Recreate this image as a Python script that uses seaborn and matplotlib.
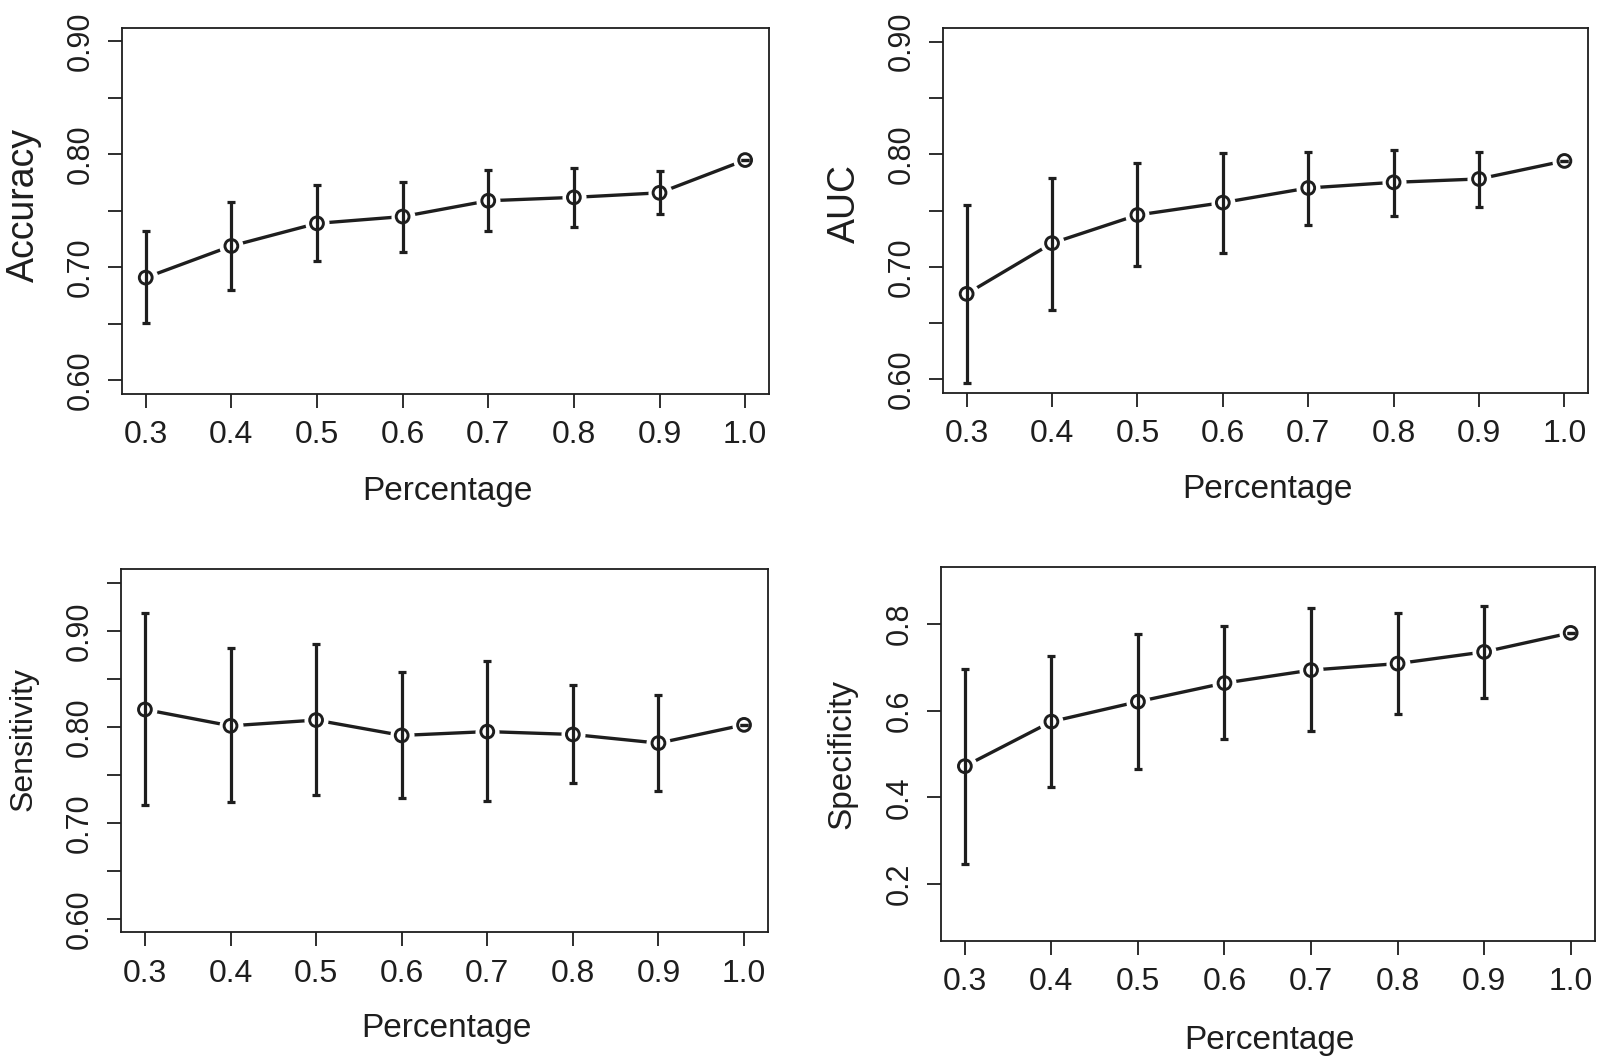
import numpy as np
import matplotlib
matplotlib.use("Agg")
import matplotlib.pyplot as plt
import seaborn as sns

# training set percentage
pct = [0.3, 0.4, 0.5, 0.6, 0.7, 0.8, 0.9, 1.0]

# mean and range (low / high) for every metric
acc_mean = [0.691, 0.719, 0.739, 0.745, 0.759, 0.762, 0.766, 0.795]
acc_lo = [0.651, 0.680, 0.706, 0.714, 0.732, 0.736, 0.747, 0.795]
acc_hi = [0.732, 0.758, 0.773, 0.776, 0.786, 0.788, 0.785, 0.795]

auc_mean = [0.676, 0.721, 0.746, 0.757, 0.770, 0.775, 0.778, 0.794]
auc_lo = [0.597, 0.662, 0.701, 0.712, 0.737, 0.745, 0.753, 0.794]
auc_hi = [0.755, 0.779, 0.792, 0.801, 0.802, 0.804, 0.802, 0.794]

sens_mean = [0.818, 0.801, 0.807, 0.791, 0.795, 0.792, 0.783, 0.802]
sens_lo = [0.719, 0.722, 0.729, 0.726, 0.723, 0.741, 0.733, 0.802]
sens_hi = [0.919, 0.882, 0.886, 0.857, 0.869, 0.844, 0.833, 0.802]

spec_mean = [0.472, 0.575, 0.621, 0.664, 0.694, 0.709, 0.736, 0.780]
spec_lo = [0.246, 0.425, 0.466, 0.535, 0.553, 0.593, 0.630, 0.780]
spec_hi = [0.697, 0.727, 0.778, 0.796, 0.837, 0.826, 0.842, 0.780]

x_labels = ["0.3", "0.4", "0.5", "0.6", "0.7", "0.8", "0.9", "1.0"]

sns.set_style("ticks")
plt.rcParams["font.family"] = ["Liberation Sans", "DejaVu Sans"]
INK = "#1e1e1e"

fig = plt.figure(figsize=(16, 10.57), dpi=100)

# panel: (rect, mean, lo, hi, ylabel, ylabel size, ylim, yticks, ytick labels, ylabel pos)
panels = [
    ([0.0761, 0.6272, 0.4046, 0.3465], acc_mean, acc_lo, acc_hi, "Accuracy", 27,
     (0.6, 0.9), np.arange(0.60, 0.901, 0.05), ["0.60", "", "0.70", "", "0.80", "", "0.90"], 0.515),
    ([0.5892, 0.6282, 0.4035, 0.3453], auc_mean, auc_lo, auc_hi, "AUC", 27,
     (0.6, 0.9), np.arange(0.60, 0.901, 0.05), ["0.60", "", "0.70", "", "0.80", "", "0.90"], 0.518),
    ([0.0756, 0.1180, 0.4044, 0.3434], sens_mean, sens_lo, sens_hi, "Sensitivity", 23,
     (0.6, 0.95), np.arange(0.60, 0.951, 0.05), ["0.60", "", "0.70", "", "0.80", "", "0.90", ""], 0.532),
    ([0.5879, 0.1097, 0.4089, 0.3538], spec_mean, spec_lo, spec_hi, "Specificity", 24,
     (0.1, 0.9), [0.2, 0.4, 0.6, 0.8], ["0.2", "0.4", "0.6", "0.8"], 0.5),
]

for rect, mean, lo, hi, ylab, ysize, ylim, yt, ytl, ylab_y in panels:
    ax = fig.add_axes(rect)
    mean = np.array(mean)
    err = [mean - np.array(lo), np.array(hi) - mean]

    # connecting line, with white halo around the points (R type="b" look)
    sns.lineplot(x=pct, y=mean, ax=ax, color=INK, lw=2.4, estimator=None, zorder=1)
    sns.scatterplot(x=pct, y=mean, ax=ax, s=300, color="white", linewidth=0, zorder=2)
    ax.errorbar(pct, mean, yerr=err, fmt="none", ecolor=INK, elinewidth=2.3,
                capsize=3, capthick=2.3, zorder=3)
    sns.scatterplot(x=pct, y=mean, ax=ax, s=85, facecolor="none", edgecolor=INK,
                    linewidth=2.1, zorder=4)

    # R style 4% padding
    xr = pct[-1] - pct[0]
    ax.set_xlim(pct[0] - 0.04 * xr, pct[-1] + 0.04 * xr)
    yr = ylim[1] - ylim[0]
    ax.set_ylim(ylim[0] - 0.04 * yr, ylim[1] + 0.04 * yr)

    ax.set_xticks(pct)
    ax.set_xticklabels(x_labels, fontsize=23, color=INK)
    ax.set_yticks(yt)
    ax.set_yticklabels(ytl, fontsize=22, color=INK, rotation=90, va="center", ha="right")
    ax.tick_params(axis="both", direction="out", length=10, width=1.3, color=INK)
    ax.tick_params(axis="x", pad=9)
    ax.tick_params(axis="y", pad=9)
    for s in ax.spines.values():
        s.set_visible(True)
        s.set_linewidth(1.3)
        s.set_color(INK)

    ax.set_xlabel("Percentage", fontsize=24, color=INK)
    ax.xaxis.set_label_coords(0.503, -0.265)
    ax.xaxis.label.set_va("center")
    ax.set_ylabel(ylab, fontsize=ysize, color=INK)
    ax.yaxis.set_label_coords(-0.151, ylab_y)
    ax.yaxis.label.set_va("center")

plt.savefig("out.png", dpi=100)
